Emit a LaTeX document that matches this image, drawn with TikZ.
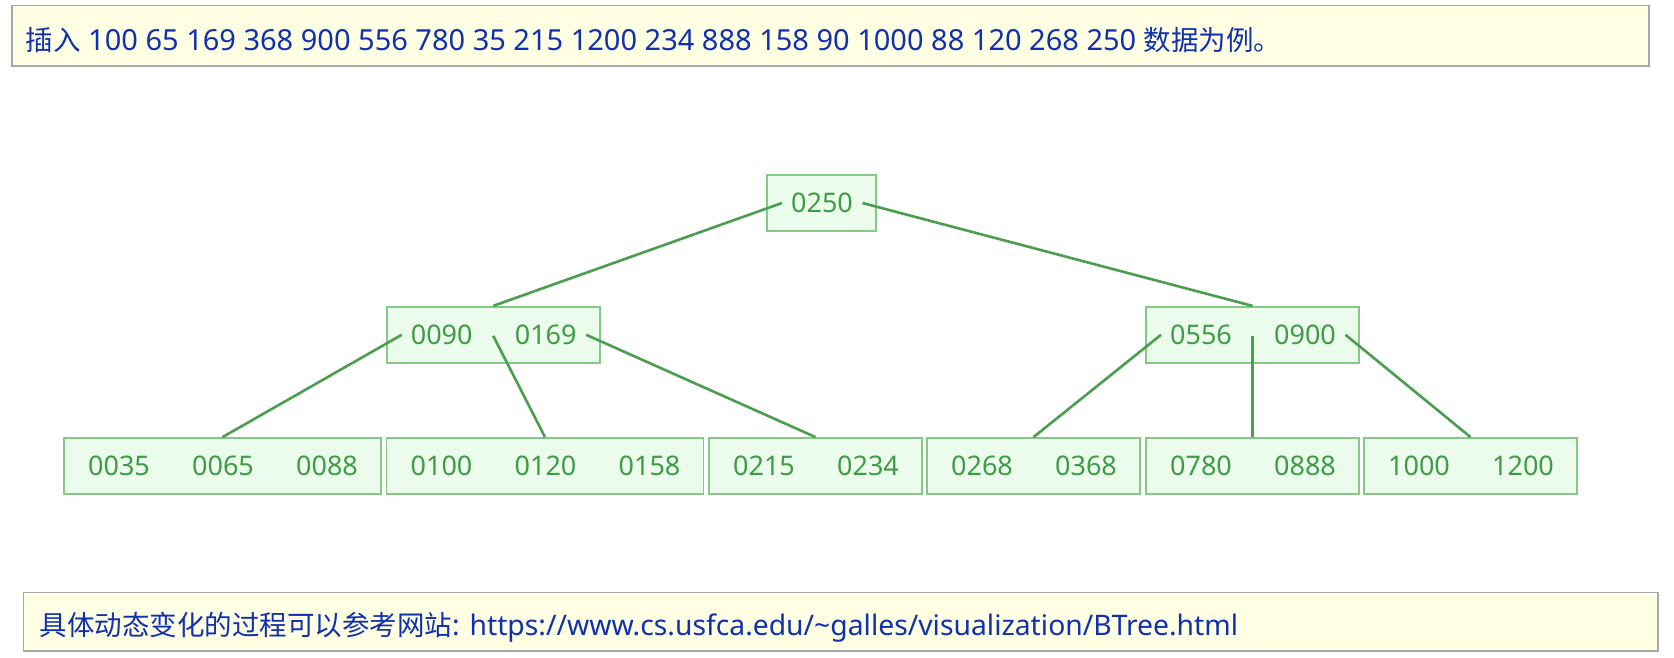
\documentclass[tikz,border=0pt]{standalone}
\usepackage{fontspec}
\setmainfont{Noto Sans}
\newfontfamily\cjk{Noto Sans CJK SC}
\definecolor{topfill}{HTML}{FFFFE4}
\definecolor{topdraw}{HTML}{A8A8A8}
\definecolor{txtblue}{HTML}{1030B0}
\definecolor{nodefill}{HTML}{ECFCEC}
\definecolor{nodedraw}{HTML}{86C986}
\definecolor{keygreen}{HTML}{3E9C45}
\definecolor{edgegreen}{HTML}{4A9E4E}
\tikzset{
  notebox/.style={draw=topdraw, fill=topfill, line width=1.2pt},
  notetext/.style={anchor=west, inner sep=0pt, text=txtblue, font=\fontsize{29}{34}\selectfont},
  treebox/.style={draw=nodedraw, fill=nodefill, line width=1.8pt, minimum height=56pt, inner sep=0pt},
  keytext/.style={inner sep=0pt, text=keygreen, font=\fontsize{27}{30}\selectfont},
  edge/.style={draw=edgegreen, line width=2.6pt}
}
\newcommand\cjkt[1]{{\cjk\fontsize{27.5}{32}\selectfont #1}}
\newcommand\btnode[5]{%
  \pgfmathsetmacro\bw{104*#4+5}%
  \node[treebox, minimum width=\bw pt] (#1) at ({#2+\bw/2},#3) {};
  \foreach \k [count=\i from 0] in {#5}{
    \node[keytext] (#1-k\i) at ({#2+55+104*\i},#3) {\k};
  }
  \coordinate (#1-p0) at ({#2+15},#3);
  \ifnum#4>1
    \pgfmathtruncatemacro\nm{#4-1}%
    \foreach \i in {1,...,\nm}{
      \coordinate (#1-p\i) at ({#2+2.5+104*\i},{#3+1});
    }
  \fi
  \coordinate (#1-p#4) at ({#2+\bw-13.5},#3);
}
\begin{document}
\begin{tikzpicture}[x=1pt,y=-1pt]
\useasboundingbox (0,0) rectangle (1674,658);
% top note
\path[notebox] (12,5.5) rectangle (1649,66);
\node[notetext] (toptext) at (25.5,40.5) {\cjkt{插入} 100 65 169 368 900 556 780 35 215 1200 234 888 158 90 1000 88 120 268 250 \cjkt{数据为例。}};
% bottom note
\path[notebox] (23.5,592.5) rectangle (1658,651);
\node[notetext, font=\fontsize{28.3}{34}\selectfont] (bottext) at (39.5,627) {\cjkt{具体动态变化的过程可以参考网站}: https://www.cs.usfca.edu/\textasciitilde galles/visualization/BTree.html};
% tree nodes
\btnode{root}{767}{203}{1}{0250}
\btnode{ml}{386.7}{334.8}{2}{0090,0169}
\btnode{mr}{1146}{334.8}{2}{0556,0900}
\btnode{la}{64}{466}{3}{0035,0065,0088}
\btnode{lb}{386.5}{466}{3}{0100,0120,0158}
\btnode{lc}{709}{466}{2}{0215,0234}
\btnode{ld}{927}{466}{2}{0268,0368}
\btnode{le}{1146}{466}{2}{0780,0888}
\btnode{lf}{1364}{466}{2}{1000,1200}
% edges
\draw[edge] (root-p0) -- (ml.north);
\draw[edge] (root-p1) -- (mr.north);
\draw[edge] (ml-p0) -- (la.north);
\draw[edge] (ml-p1) -- (lb.north);
\draw[edge] (ml-p2) -- (lc.north);
\draw[edge] (mr-p0) -- (ld.north);
\draw[edge] (mr-p1) -- (le.north);
\draw[edge] (mr-p2) -- (lf.north);
\end{tikzpicture}
\end{document}
